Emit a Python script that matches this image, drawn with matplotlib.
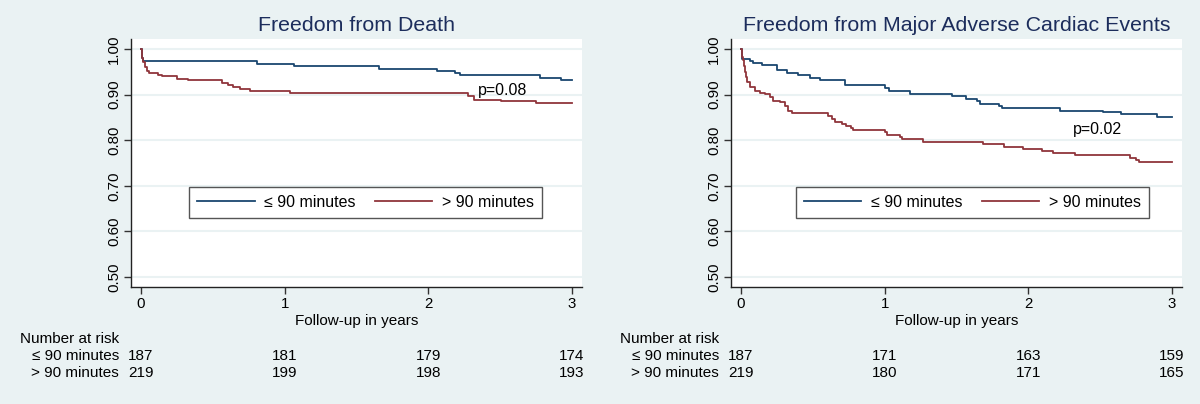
import numpy as np
import matplotlib.pyplot as plt
from matplotlib.lines import Line2D
import matplotlib.transforms as mtransforms

plt.rcParams['font.family'] = ['Liberation Sans', 'DejaVu Sans']

# data: Kaplan-Meier steps (time in years, survival)
death_le90_t = [0, 0.004, 0.008, 0.016, 0.805, 1.068, 1.66, 2.063, 2.19, 2.22, 2.78, 2.925, 3.0]
death_le90_s = [1.0, 0.99, 0.98, 0.973, 0.968, 0.962, 0.957, 0.951, 0.947, 0.942, 0.936, 0.931, 0.931]
death_gt90_t = [0, 0.005, 0.01, 0.016, 0.028, 0.04, 0.056, 0.121, 0.144, 0.248, 0.325, 0.562,
                0.608, 0.643, 0.689, 0.759, 1.038, 2.28, 2.32, 2.51, 2.75, 3.0]
death_gt90_s = [1.0, 0.99, 0.98, 0.971, 0.96, 0.952, 0.948, 0.944, 0.94, 0.935, 0.931, 0.926,
                0.922, 0.916, 0.912, 0.908, 0.904, 0.897, 0.889, 0.886, 0.881, 0.881]

mace_le90_t = [0, 0.004, 0.008, 0.063, 0.086, 0.144, 0.249, 0.318, 0.399, 0.481, 0.55, 0.724,
               1.003, 1.029, 1.177, 1.467, 1.57, 1.64, 1.664, 1.797, 1.815, 2.22, 2.52, 2.643,
               2.90, 3.0]
mace_le90_s = [1.0, 0.99, 0.979, 0.973, 0.969, 0.964, 0.953, 0.948, 0.943, 0.937, 0.931, 0.922,
               0.915, 0.909, 0.902, 0.896, 0.891, 0.886, 0.88, 0.876, 0.871, 0.865, 0.861, 0.857,
               0.851, 0.851]
mace_gt90_t = [0, 0.005, 0.01, 0.016, 0.022, 0.028, 0.034, 0.039, 0.063, 0.097, 0.132, 0.167,
               0.202, 0.225, 0.272, 0.306, 0.33, 0.353, 0.603, 0.635, 0.656, 0.701, 0.728,
               0.768, 0.781, 1.003, 1.016, 1.109, 1.123, 1.264, 1.683, 1.829, 1.963, 2.096,
               2.176, 2.323, 2.709, 2.749, 2.771, 3.0]
mace_gt90_s = [1.0, 0.99, 0.982, 0.975, 0.962, 0.949, 0.938, 0.927, 0.916, 0.909, 0.904, 0.902,
               0.895, 0.887, 0.884, 0.876, 0.865, 0.86, 0.853, 0.846, 0.84, 0.836, 0.831,
               0.826, 0.822, 0.817, 0.812, 0.806, 0.803, 0.796, 0.791, 0.786, 0.781, 0.776,
               0.771, 0.767, 0.762, 0.757, 0.753, 0.753]

titles = ['Freedom from Death', 'Freedom from Major Adverse Cardiac Events']
group_labels = ['\u2264 90 minutes', '> 90 minutes']
risk_times = [0, 1, 2, 3]
risk_death = [[187, 181, 179, 174], [219, 199, 198, 193]]
risk_mace = [[187, 171, 163, 159], [219, 180, 171, 165]]
p_text = ['p=0.08', 'p=0.02']
p_pos = [(2.52, 0.910), (2.48, 0.823)]

blue = '#1a476f'
red = '#90353b'
bg = '#eaf2f3'

fig = plt.figure(figsize=(12, 4.04), dpi=100, facecolor=bg)

panels = [
    (0.1092, death_le90_t, death_le90_s, death_gt90_t, death_gt90_s, risk_death, 0.129),
    (0.6092, mace_le90_t, mace_le90_s, mace_gt90_t, mace_gt90_s, risk_mace, 0.144),
]

for i, (left, t1, s1, t2, s2, risk, leg_x) in enumerate(panels):
    ax = fig.add_axes([left, 0.2896, 0.3758, 0.6139])
    ax.set_facecolor('white')
    ax.step(t1, s1, where='post', color=blue, lw=1.3)
    ax.step(t2, s2, where='post', color=red, lw=1.3)
    ax.set_xlim(-0.0696, 3.071)
    ax.set_ylim(0.478, 1.022)
    ax.set_yticks(np.arange(0.5, 1.01, 0.1))
    ax.set_yticklabels(['%.2f' % v for v in np.arange(0.5, 1.01, 0.1)],
                       rotation=90, va='center', fontsize=10.8)
    ax.set_xticks(risk_times)
    ax.set_xticklabels([str(v) for v in risk_times], fontsize=10.8)
    ax.tick_params(direction='out', length=5, width=1, color='#333333', pad=2)
    ax.grid(axis='y', color=bg, lw=1.5)
    ax.set_axisbelow(True)
    for sp in ['top', 'right']:
        ax.spines[sp].set_visible(False)
    for sp in ['left', 'bottom']:
        ax.spines[sp].set_color('#222222')
        ax.spines[sp].set_linewidth(1)

    ax.text(0.5, 1.056, titles[i], transform=ax.transAxes, ha='center', va='center',
            fontsize=15.4, color='#1c2d5c')
    ax.text(0.5, -0.137, 'Follow-up in years', transform=ax.transAxes, ha='center',
            va='center', fontsize=11)
    ax.text(p_pos[i][0], p_pos[i][1], p_text[i], ha='center', va='center', fontsize=11.5)

    handles = [Line2D([], [], color=blue, lw=1.3), Line2D([], [], color=red, lw=1.3)]
    leg = ax.legend(handles, group_labels, loc='lower left', ncol=2, mode='expand',
                    bbox_to_anchor=(leg_x, 0.278, 0.782, 0.117), fontsize=11.5,
                    handlelength=3.6, handletextpad=0.6, borderaxespad=0,
                    fancybox=False, framealpha=1, edgecolor='#555555', borderpad=0.5)
    leg.get_frame().set_linewidth(1)

    # number at risk table
    base = left * 1200
    fig.text((base - 111) / 1200, 0.161, 'Number at risk', ha='left', va='center', fontsize=11)
    trans = mtransforms.blended_transform_factory(ax.transData, fig.transFigure)
    for row, yy in zip(range(2), [0.119, 0.077]):
        fig.text((base - 12) / 1200, yy, group_labels[row], ha='right', va='center', fontsize=11)
        for tt, n in zip(risk_times, risk[row]):
            ax.text(tt, yy, str(n), transform=trans, ha='center', va='center', fontsize=11)

plt.savefig('out.png', dpi=100, facecolor=bg)
